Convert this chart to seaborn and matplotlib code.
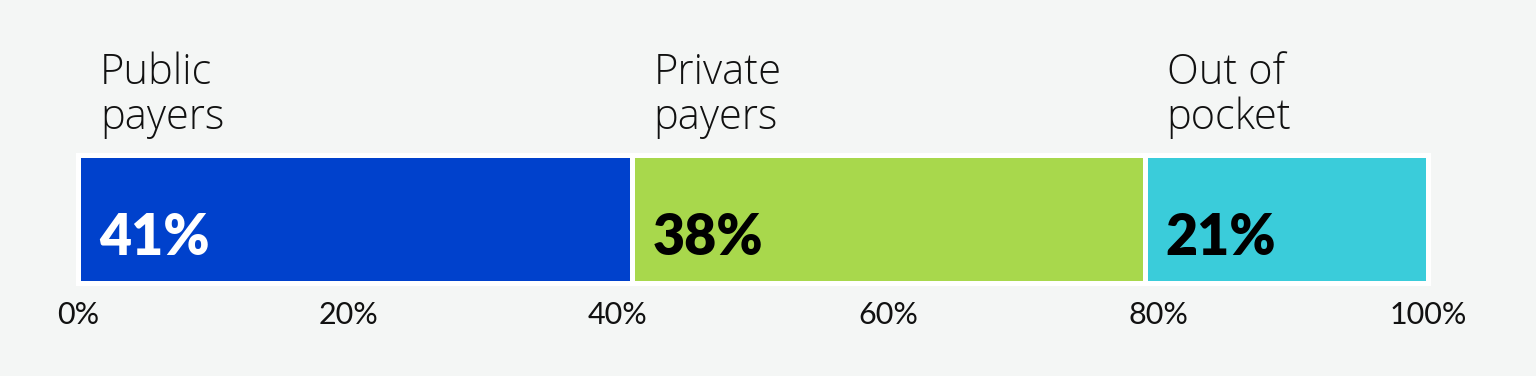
import matplotlib
matplotlib.use("Agg")
import matplotlib.pyplot as plt
import seaborn as sns
import numpy as np

categories = ["Public\npayers", "Private\npayers", "Out of\npocket"]
shares = [41, 38, 21]
colors = ["#0041CC", "#A8D84C", "#3ACCDA"]
pct_colors = ["white", "black", "black"]
tick_values = [0, 20, 40, 60, 80, 100]
tick_labels = ["0%", "20%", "40%", "60%", "80%", "100%"]

sns.set_theme(style="white")
plt.rcParams["font.family"] = ["Lato", "DejaVu Sans"]

bg = "#F4F6F5"
fig = plt.figure(figsize=(15.36, 3.76), dpi=100, facecolor=bg)
W, H = 1536, 376
ax = fig.add_axes([78 / W, 1 - 282.5 / H, 1350 / W, 128 / H])
ax.set_facecolor(bg)

ends = np.cumsum(shares)
starts = ends - np.array(shares)

for i in reversed(range(len(shares))):
    sns.barplot(x=[ends[i]], y=["all"], orient="h", color=colors[i],
                saturation=1, width=1, edgecolor="white", linewidth=3.6,
                ax=ax)

for p in ax.patches:
    p.set_clip_on(False)

ax.set_xlim(0, 100)
ax.set_ylim(0.5, -0.5)
ax.set_xlabel("")
ax.set_ylabel("")
ax.set_yticks([])
ax.set_xticks(tick_values)
ax.set_xticklabels(tick_labels, fontsize=22, color="#111111")
ax.tick_params(axis="x", length=0, pad=13)
for s in ax.spines.values():
    s.set_visible(False)

for i, (cat, st) in enumerate(zip(categories, starts)):
    ax.annotate(cat, xy=(st, 1), xycoords=("data", "axes fraction"),
                xytext=(16, 11.5), textcoords="offset points",
                ha="left", va="bottom", fontsize=30,
                family=["Open Sans", "DejaVu Sans"], fontweight="light",
                color="#111111", linespacing=1.06, annotation_clip=False)
    ax.annotate(f"{shares[i]}%", xy=(st, 0.5), xycoords=("data", "axes fraction"),
                xytext=(15, -26.5), textcoords="offset points",
                ha="left", va="baseline", fontsize=40, fontweight="heavy",
                color=pct_colors[i], annotation_clip=False)

fig.savefig("out.png", dpi=100, facecolor=bg)
